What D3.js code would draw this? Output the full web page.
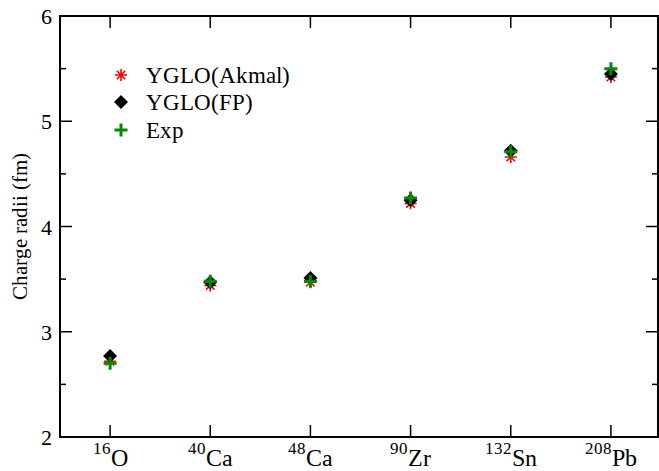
<!DOCTYPE html>
<html><head><meta charset="utf-8">
<script src="https://cdn.jsdelivr.net/npm/d3@7"></script>
<style>
@font-face{font-family:"RefSerif";src:local("Liberation Serif"),local("LiberationSerif"),local("LiberationSerif-Regular"),local("Times New Roman");}
body{margin:0;background:#fff}
#c text{font-family:"RefSerif","Liberation Serif","Times New Roman",Times;}
</style>
</head><body><svg id="c" width="659" height="471"></svg>
<script>
const nuclei = ["O","Ca","Ca","Zr","Sn","Pb"];
const massNumbers = ["16","40","48","90","132","208"];
const akmal = [2.72,3.44,3.47,4.22,4.66,5.42];
const fp = [2.77,3.47,3.51,4.25,4.72,5.45];
const exp = [2.70,3.48,3.48,4.27,4.71,5.50];
const yTicks = [2,3,4,5,6];
const seriesNames = ["YGLO(Akmal)","YGLO(FP)","Exp"];

const svg = d3.select("#c");

function draw(){
  svg.selectAll("g.chart").remove();
  const root = svg.append("g").attr("class","chart");
  const L=60, R=658, T=16, B=437;
  const x = d3.scaleLinear().domain([0.5,6.47]).range([L,R]);
  const y = d3.scaleLinear().domain([2,6]).range([B,T]);
  const idx = d3.range(1, nuclei.length+1);

  root.append("rect").attr("x",L).attr("y",T).attr("width",R-L).attr("height",B-T)
    .attr("fill","none").attr("stroke","#000").attr("stroke-width",2);

  const g = root.append("g");
  const minorY = d3.range(2.5,6,1);
  yTicks.forEach(v=>{
    g.append("line").attr("x1",L).attr("x2",L+12).attr("y1",y(v)).attr("y2",y(v)).attr("stroke","#000").attr("stroke-width",1.5);
    g.append("line").attr("x1",R).attr("x2",R-12).attr("y1",y(v)).attr("y2",y(v)).attr("stroke","#000").attr("stroke-width",1.5);
    g.append("text").attr("x",L-8).attr("y",y(v)+8).attr("text-anchor","end").attr("font-size",22).text(v);
  });
  minorY.forEach(v=>{
    g.append("line").attr("x1",L).attr("x2",L+6).attr("y1",y(v)).attr("y2",y(v)).attr("stroke","#000").attr("stroke-width",1.5);
    g.append("line").attr("x1",R).attr("x2",R-6).attr("y1",y(v)).attr("y2",y(v)).attr("stroke","#000").attr("stroke-width",1.5);
  });
  idx.forEach((i,k)=>{
    g.append("line").attr("x1",x(i)).attr("x2",x(i)).attr("y1",B).attr("y2",B-12).attr("stroke","#000").attr("stroke-width",1.5);
    g.append("line").attr("x1",x(i)).attr("x2",x(i)).attr("y1",T).attr("y2",T+12).attr("stroke","#000").attr("stroke-width",1.5);
    const t = g.append("text").attr("x",x(i)).attr("y",466).attr("text-anchor","middle");
    t.append("tspan").attr("font-size",17).attr("dy",-12).text(massNumbers[k]);
    t.append("tspan").attr("font-size",24).attr("dy",12).text(nuclei[k]);
  });
  root.append("text").attr("transform",`translate(27,${(T+B)/2}) rotate(-90)`).attr("text-anchor","middle")
    .attr("font-size",21).text("Charge radii (fm)");

  function star(s){const r=s/2;let p="";for(let a=0;a<4;a++){const t=a*Math.PI/4;p+=`M${-r*Math.cos(t)},${-r*Math.sin(t)}L${r*Math.cos(t)},${r*Math.sin(t)}`;}return p;}
  function diamond(s){const r=s/2;return `M0,${-r}L${r},0L0,${r}L${-r},0Z`;}
  function plus(s){const r=s/2;return `M${-r},0L${r},0M0,${-r}L0,${r}`;}
  function drawStar(sel,cx,cy){sel.append("path").attr("d",star(12)).attr("transform",`translate(${cx},${cy})`).attr("stroke","#ff0000").attr("stroke-width",1.6).attr("fill","none");}
  function drawDiamond(sel,cx,cy){sel.append("path").attr("d",diamond(14)).attr("transform",`translate(${cx},${cy})`).attr("fill","#000");}
  function drawPlus(sel,cx,cy){sel.append("path").attr("d",plus(13)).attr("transform",`translate(${cx},${cy})`).attr("stroke","#008c00").attr("stroke-width",3).attr("fill","none");}

  const m = root.append("g");
  idx.forEach((i,k)=>drawStar(m,x(i),y(akmal[k])));
  idx.forEach((i,k)=>drawDiamond(m,x(i),y(fp[k])));
  idx.forEach((i,k)=>drawPlus(m,x(i),y(exp[k])));

  const lg = root.append("g");
  const ly=[75,102,130];
  drawStar(lg,121,ly[0]); drawDiamond(lg,121,ly[1]); drawPlus(lg,121,ly[2]);
  seriesNames.forEach((n,k)=>lg.append("text").attr("x",146).attr("y",ly[k]+8).attr("font-size",23).text(n));
}
draw();
</script></body></html>
